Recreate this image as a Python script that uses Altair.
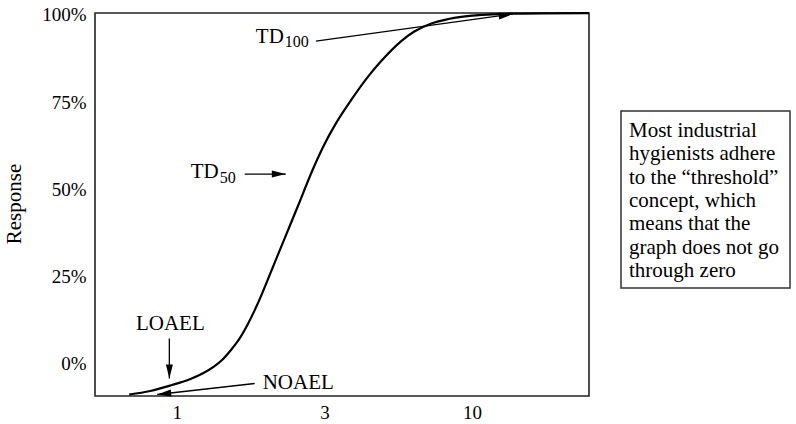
import altair as alt
import pandas as pd

# Dose-response curve: dose (log axis) and response in percent
dose = [0.6894, 0.8125, 0.9504, 1.1115, 1.2308, 1.3308, 1.4283, 1.5202, 1.6059, 1.7370,
        1.8205, 1.8933, 2.0797, 2.3034, 2.5694, 2.8891, 3.1255, 3.4611, 3.8917, 4.3770,
        4.9228, 5.7569, 6.3738, 7.2823, 8.3193, 10.772, 12.899, 17.235, 24.9]
response = [-9.00, -7.99, -6.41, -4.54, -2.82, -1.09, 1.06, 3.65, 6.24, 11.13,
            14.58, 17.74, 26.08, 35.28, 45.06, 55.70, 62.03, 68.93, 75.54, 81.58,
            86.76, 92.51, 95.24, 97.54, 98.84, 99.99, 100.33, 100.47, 100.5]

# Axis ticks and ranges
x_ticks = [1, 3.162, 10]
x_tick_labels = ["1", "3", "10"]
y_ticks = [0, 25, 50, 75, 100]
x_domain = [0.528, 24.9]
y_domain = [-9.43, 100.56]

# "TD" labels: anchor at the right edge of "TD" on its baseline, subscript follows
td_dose = [2.303, 1.386]
td_resp = [92.0, 53.1]
td_sub = ["100", "50"]

# LOAEL (centred) and NOAEL (left-aligned) labels
loael_dose, loael_resp = [0.950], [9.4]
noael_dose, noael_resp = [1.953], [-7.3]

# Arrows: tail (x0, y0) -> head (x1, y1), head direction in degrees
arrow_x0 = [2.958, 1.697, 0.943, 1.835]
arrow_y0 = [92.5, 54.3, 7.1, -5.84]
arrow_x1 = [13.73, 2.339, 0.943, 0.858]
arrow_y1 = [100.26, 54.3, -4.4, -9.0]
arrow_angle = [352, 0, 90, 173.5]

note_lines = ["Most industrial", "hygienists adhere", "to the \u201cthreshold\u201d",
              "concept, which", "means that the", "graph does not go", "through zero"]

FONT = "Liberation Serif"

curve_df = pd.DataFrame({"dose": dose, "response": response})
td_df = pd.DataFrame({"dose": td_dose, "response": td_resp, "sub": td_sub})
loael_df = pd.DataFrame({"dose": loael_dose, "response": loael_resp, "t": ["LOAEL"]})
noael_df = pd.DataFrame({"dose": noael_dose, "response": noael_resp, "t": ["NOAEL"]})
arrow_df = pd.DataFrame({"x0": arrow_x0, "y0": arrow_y0, "x1": arrow_x1,
                         "y1": arrow_y1, "angle": arrow_angle})

label_expr = " : ".join(
    f"datum.value < {(x_ticks[i] + x_ticks[i + 1]) / 2} ? '{x_tick_labels[i]}'"
    for i in range(len(x_ticks) - 1)
) + f" : '{x_tick_labels[-1]}'"

xscale = alt.Scale(type="log", domain=x_domain, nice=False, zero=False)
yscale = alt.Scale(domain=y_domain, nice=False, zero=False)

x_axis = alt.Axis(values=x_ticks, labelExpr=label_expr, domain=False, ticks=False,
                  grid=False, labelFont=FONT, labelFontSize=19, labelColor="black",
                  labelPadding=7, title=None)
y_axis = alt.Axis(values=y_ticks, labelExpr="datum.value + '%'", domain=False, ticks=False,
                  grid=False, labelFont=FONT, labelFontSize=19, labelColor="black",
                  labelPadding=9, title=None)


def X(field):
    return alt.X(field, type="quantitative", scale=xscale, axis=x_axis)


def Y(field):
    return alt.Y(field, type="quantitative", scale=yscale, axis=y_axis)


curve = alt.Chart(curve_df).mark_line(color="black", strokeWidth=2.2, interpolate="monotone").encode(
    x=X("dose"), y=Y("response"),
)

shafts = alt.Chart(arrow_df).mark_rule(color="black", strokeWidth=1.3).encode(
    x=X("x0"), x2="x1:Q", y=Y("y0"), y2="y1:Q",
)

heads = alt.Chart(arrow_df).mark_point(
    shape="M0,0L-2,-0.5L-2,0.5Z", filled=True, size=196, color="black", opacity=1
).encode(
    x=X("x1"), y=Y("y1"), angle=alt.Angle("angle:Q", scale=None),
)

td_main = alt.Chart(td_df).mark_text(
    font=FONT, fontSize=21, color="black", align="right", baseline="alphabetic"
).encode(x=X("dose"), y=Y("response"), text=alt.value("TD"))

td_subs = alt.Chart(td_df).mark_text(
    font=FONT, fontSize=16, color="black", align="left", baseline="alphabetic", dx=1, dy=4.5
).encode(x=X("dose"), y=Y("response"), text="sub:N")

loael = alt.Chart(loael_df).mark_text(
    font=FONT, fontSize=21, color="black", align="center", baseline="alphabetic"
).encode(x=X("dose"), y=Y("response"), text="t:N")

noael = alt.Chart(noael_df).mark_text(
    font=FONT, fontSize=21, color="black", align="left", baseline="alphabetic"
).encode(x=X("dose"), y=Y("response"), text="t:N")

one = alt.Data(values=[{}])

y_title = alt.Chart(one).mark_text(
    font=FONT, fontSize=21, color="black", angle=270, align="center", baseline="middle"
).encode(x=alt.value(-80), y=alt.value(191), text=alt.value("Response"))

note_box = alt.Chart(one).mark_rect(fill="white", stroke="#333", strokeWidth=1.5).encode(
    x=alt.value(526), x2=alt.value(695), y=alt.value(98), y2=alt.value(275)
)

note_text = alt.Chart(one).mark_text(
    font=FONT, fontSize=21, color="black", align="left", baseline="alphabetic", lineHeight=23.3
).encode(x=alt.value(534), y=alt.value(124), text=alt.value(note_lines))

chart = alt.layer(
    curve, shafts, heads, td_main, td_subs, loael, noael, y_title, note_box, note_text
).properties(
    width=494, height=383,
    autosize=alt.AutoSizeParams(type="none"),
    padding={"left": 95, "top": 13, "right": 207, "bottom": 28},
).configure(
    background="white",
    view=alt.ViewConfig(stroke="#222", strokeWidth=1.6),
)

chart.save("out.html", embed_options={"renderer": "svg", "actions": False})
